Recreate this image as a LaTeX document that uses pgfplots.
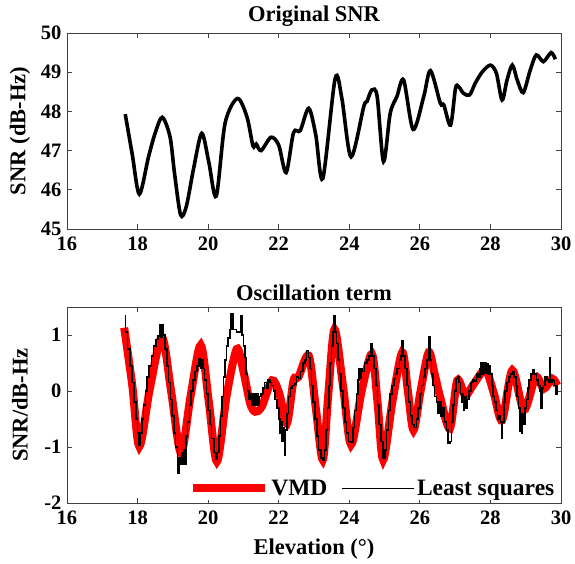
\documentclass[border=0pt]{standalone}
\usepackage{pgfplots}
\pgfplotsset{compat=1.18}
\usepackage{fontspec}
\setmainfont{Liberation Serif}
\begin{document}
\begin{tikzpicture}
\useasboundingbox (-67pt,-60pt) rectangle (508pt,503pt);
\pgfplotsset{
 common/.style={
  width=494pt, height=196pt, scale only axis,
  xmin=16, xmax=30, xtick={16,18,...,30},
  tick align=inside, major tick length=5pt,
  axis line style={draw=black!75, line width=0.8pt},
  every tick/.style={black!75, line width=0.8pt},
  tick label style={font=\fontsize{20.5}{24}\selectfont\bfseries},
  xticklabel style={yshift=-4pt},
  yticklabel style={xshift=-2pt},
  label style={font=\fontsize{22.5}{26}\selectfont\bfseries},
  xlabel style={yshift=-8pt},
  title style={font=\fontsize{22.5}{26}\selectfont\bfseries, yshift=-3pt},
  every axis y label/.style={at={(rel axis cs:0,0.5)}, xshift=-47pt, rotate=90, anchor=center, font=\fontsize{22.5}{26}\selectfont\bfseries},
  /pgf/number format/assume math mode=true,
 }
}
\begin{axis}[common, at={(0,274pt)}, ymin=45, ymax=50, ytick={45,...,50},
  title={Original SNR}, ylabel={SNR (dB-Hz)}]
\addplot[black, line width=3.6pt, smooth, tension=0.5] coordinates {
(17.65,47.93) (17.85,46.90) (18.05,45.89) (18.31,46.84) (18.50,47.45) (18.70,47.85)
(18.92,47.35) (19.05,46.40) (19.22,45.36) (19.38,45.57) (19.60,46.60) (19.82,47.44)
(20.02,46.70) (20.23,45.84) (20.48,47.70) (20.83,48.33) (21.10,47.86) (21.27,47.12)
(21.36,47.17) (21.50,47.00) (21.78,47.34) (22.00,47.14) (22.21,46.44) (22.42,47.46)
(22.61,47.51) (22.85,48.08) (23.05,47.40) (23.25,46.29) (23.60,48.84) (23.79,48.33)
(24.05,46.84) (24.41,48.12) (24.50,48.25) (24.64,48.55) (24.79,48.38) (24.97,46.72)
(25.16,47.95) (25.35,48.38) (25.54,48.80) (25.81,47.54) (26.11,48.38) (26.30,49.04)
(26.58,48.21) (26.68,48.16) (26.87,47.65) (27.01,48.59) (27.10,48.63) (27.24,48.46)
(27.41,48.42) (27.57,48.72) (27.77,49.01) (28.00,49.18) (28.17,48.97) (28.33,48.29)
(28.47,48.80) (28.62,49.18) (28.76,48.80) (28.93,48.48) (29.13,49.06) (29.30,49.44)
(29.50,49.27) (29.72,49.50) (29.84,49.33)
};
\end{axis}
\begin{axis}[common, at={(0,0)}, ymin=-2, ymax=1.5, ytick={-2,-1,0,1},
  title={Oscillation term}, ylabel={SNR/dB-Hz}, xlabel={Elevation (°)},
  legend style={at={(0.993,0.015)}, anchor=south east, draw=none, fill=white,
    legend columns=2, font=\fontsize{23.5}{27}\selectfont\bfseries, inner sep=1pt,
    /tikz/every even column/.append style={column sep=12pt}},
  legend image code/.code={\draw[#1] (0pt,0pt) -- (72pt,0pt);}]
\addplot[red, line width=8pt, smooth, tension=0.5] coordinates {
(17.62,1.13) (17.85,0.10) (18.05,-0.99) (18.35,0.05) (18.69,0.96) (18.95,0.00)
(19.23,-1.11) (19.50,-0.10) (19.79,0.82) (20.02,-0.20) (20.25,-1.26) (20.52,-0.10)
(20.81,0.75) (21.00,0.35) (21.19,-0.22) (21.33,-0.37) (21.52,-0.28) (21.81,0.19)
(22.02,-0.05) (22.23,-0.58) (22.42,0.19) (22.56,0.25) (22.85,0.63) (23.05,-0.30)
(23.25,-1.23) (23.40,-0.10) (23.58,1.10) (23.82,0.10) (24.05,-0.96) (24.35,0.00)
(24.64,0.66) (24.80,-0.20) (24.96,-1.23) (25.22,-0.20) (25.50,0.69) (25.66,0.00)
(25.82,-0.70) (26.02,0.00) (26.25,0.69) (26.42,0.30) (26.58,-0.12) (26.85,-0.67)
(27.06,0.19) (27.29,-0.08) (27.53,0.13) (27.86,0.37) (28.10,-0.05) (28.33,-0.52)
(28.62,0.37) (28.95,-0.34) (29.28,0.25) (29.51,0.04) (29.75,0.22) (29.89,0.10)
};
\addplot[black, line width=1.6pt, const plot] coordinates {
(17.63,1.34) (17.66,1.05) (17.72,0.75) (17.78,0.45) (17.84,0.15) (17.90,-0.20)
(17.95,-0.50) (18.00,-0.75) (18.04,-0.96) (18.08,-0.75) (18.12,-0.50) (18.17,-0.25)
(18.22,0.00) (18.27,0.25) (18.33,0.45) (18.39,0.62) (18.45,0.80) (18.52,0.92)
(18.58,0.98) (18.63,1.19) (18.66,0.96) (18.70,1.19) (18.74,1.00) (18.78,0.75)
(18.83,0.45) (18.88,0.15) (18.93,-0.15) (18.98,-0.45) (19.03,-0.75) (19.08,-1.00)
(19.13,-1.30) (19.15,-1.46) (19.17,-1.20) (19.21,-1.30) (19.25,-1.10) (19.28,-1.30)
(19.31,-1.05) (19.34,-1.30) (19.38,-0.80) (19.42,-0.55) (19.47,-0.25) (19.52,0.00)
(19.57,0.20) (19.63,0.35) (19.69,0.45) (19.74,0.57) (19.78,0.40) (19.82,0.55)
(19.86,0.40) (19.90,0.20) (19.95,-0.05) (20.00,-0.35) (20.05,-0.60) (20.10,-0.85)
(20.16,-1.10) (20.22,-1.22) (20.27,-1.10) (20.31,-0.80) (20.35,-0.45) (20.39,-0.10)
(20.43,0.25) (20.47,0.55) (20.52,0.80) (20.57,0.95) (20.62,1.10) (20.65,1.37)
(20.70,1.10) (20.80,1.05) (20.90,1.05) (20.93,1.34) (20.96,1.00) (21.00,0.80)
(21.04,0.60) (21.08,0.30) (21.12,0.00) (21.16,-0.15) (21.20,-0.05) (21.23,-0.25)
(21.26,-0.05) (21.29,-0.25) (21.32,-0.05) (21.35,-0.25) (21.38,-0.05) (21.42,-0.25)
(21.46,-0.10) (21.50,-0.05) (21.55,0.05) (21.60,0.15) (21.65,0.05) (21.70,0.20)
(21.75,0.15) (21.80,0.10) (21.85,0.00) (21.90,-0.15) (21.95,-0.30) (22.00,-0.50)
(22.04,-0.75) (22.07,-0.55) (22.10,-0.90) (22.13,-0.65) (22.16,-1.14) (22.19,-0.70)
(22.23,-0.40) (22.28,-0.10) (22.33,0.05) (22.38,0.10) (22.45,0.12) (22.50,0.25)
(22.56,0.22) (22.62,0.35) (22.68,0.50) (22.74,0.55) (22.79,0.72) (22.84,0.60)
(22.88,0.40) (22.93,0.10) (22.98,-0.20) (23.03,-0.50) (23.08,-0.80) (23.13,-1.05)
(23.19,-1.20) (23.25,-1.23) (23.30,-1.05) (23.34,-0.70) (23.38,-0.30) (23.42,0.10)
(23.46,0.50) (23.50,0.80) (23.54,1.05) (23.56,1.34) (23.60,1.05) (23.64,0.85)
(23.68,0.55) (23.72,0.30) (23.77,0.00) (23.82,-0.30) (23.87,-0.55) (23.92,-0.75)
(23.98,-0.90) (24.04,-0.92) (24.10,-0.65) (24.15,-0.35) (24.20,-0.05) (24.24,0.20)
(24.27,0.40) (24.30,0.22) (24.34,0.40) (24.38,0.35) (24.43,0.50) (24.50,0.55)
(24.56,0.62) (24.60,0.84) (24.65,0.62) (24.70,0.40) (24.75,0.10) (24.80,-0.25)
(24.85,-0.60) (24.90,-0.90) (24.95,-1.20) (25.01,-1.05) (25.06,-0.70) (25.11,-0.35)
(25.16,-0.05) (25.21,0.10) (25.26,0.22) (25.31,0.30) (25.36,0.40) (25.42,0.55)
(25.47,0.62) (25.50,0.90) (25.54,0.62) (25.58,0.40) (25.63,0.10) (25.68,-0.20)
(25.73,-0.45) (25.78,-0.60) (25.84,-0.65) (25.90,-0.50) (25.95,-0.30) (26.00,-0.05)
(26.05,0.10) (26.10,0.25) (26.15,0.40) (26.20,0.55) (26.24,0.96) (26.28,0.55)
(26.33,0.30) (26.38,0.10) (26.42,-0.10) (26.47,-0.20) (26.52,-0.40) (26.56,-0.20)
(26.60,-0.45) (26.65,-0.30) (26.70,-0.55) (26.75,-0.70) (26.80,-0.93) (26.85,-0.90)
(26.90,-0.55) (26.94,-0.25) (26.98,0.00) (27.02,0.22) (27.07,0.25) (27.11,0.15)
(27.15,-0.05) (27.18,-0.20) (27.21,-0.05) (27.24,-0.34) (27.27,-0.10) (27.31,-0.30)
(27.35,-0.15) (27.40,0.00) (27.45,0.15) (27.50,0.20) (27.55,0.18) (27.60,0.30)
(27.65,0.25) (27.70,0.40) (27.74,0.51) (27.76,0.30) (27.79,0.51) (27.82,0.32)
(27.85,0.50) (27.88,0.32) (27.91,0.48) (27.94,0.30) (27.97,0.45) (28.00,0.30)
(28.04,0.10) (28.08,-0.10) (28.12,-0.20) (28.16,-0.35) (28.20,-0.50) (28.24,-0.45)
(28.28,-0.55) (28.31,-0.84) (28.33,-0.55) (28.38,-0.20) (28.42,0.00) (28.47,0.15)
(28.52,0.25) (28.57,0.30) (28.62,0.35) (28.67,0.25) (28.72,0.10) (28.76,-0.10)
(28.80,-0.30) (28.83,-0.72) (28.85,-0.40) (28.88,-0.75) (28.91,-0.40) (28.94,-0.60)
(28.98,-0.30) (29.02,-0.15) (29.06,0.05) (29.10,0.20) (29.15,0.30) (29.20,0.37)
(29.25,0.30) (29.30,0.20) (29.35,0.10) (29.40,0.00) (29.43,-0.30) (29.46,0.05)
(29.50,0.10) (29.55,0.25) (29.60,0.20) (29.64,0.15) (29.68,0.60) (29.70,0.15)
(29.74,0.20) (29.78,0.18) (29.82,0.10) (29.85,-0.05) (29.88,0.10)
};
\legend{VMD, Least squares}
\end{axis}
\end{tikzpicture}
\end{document}
